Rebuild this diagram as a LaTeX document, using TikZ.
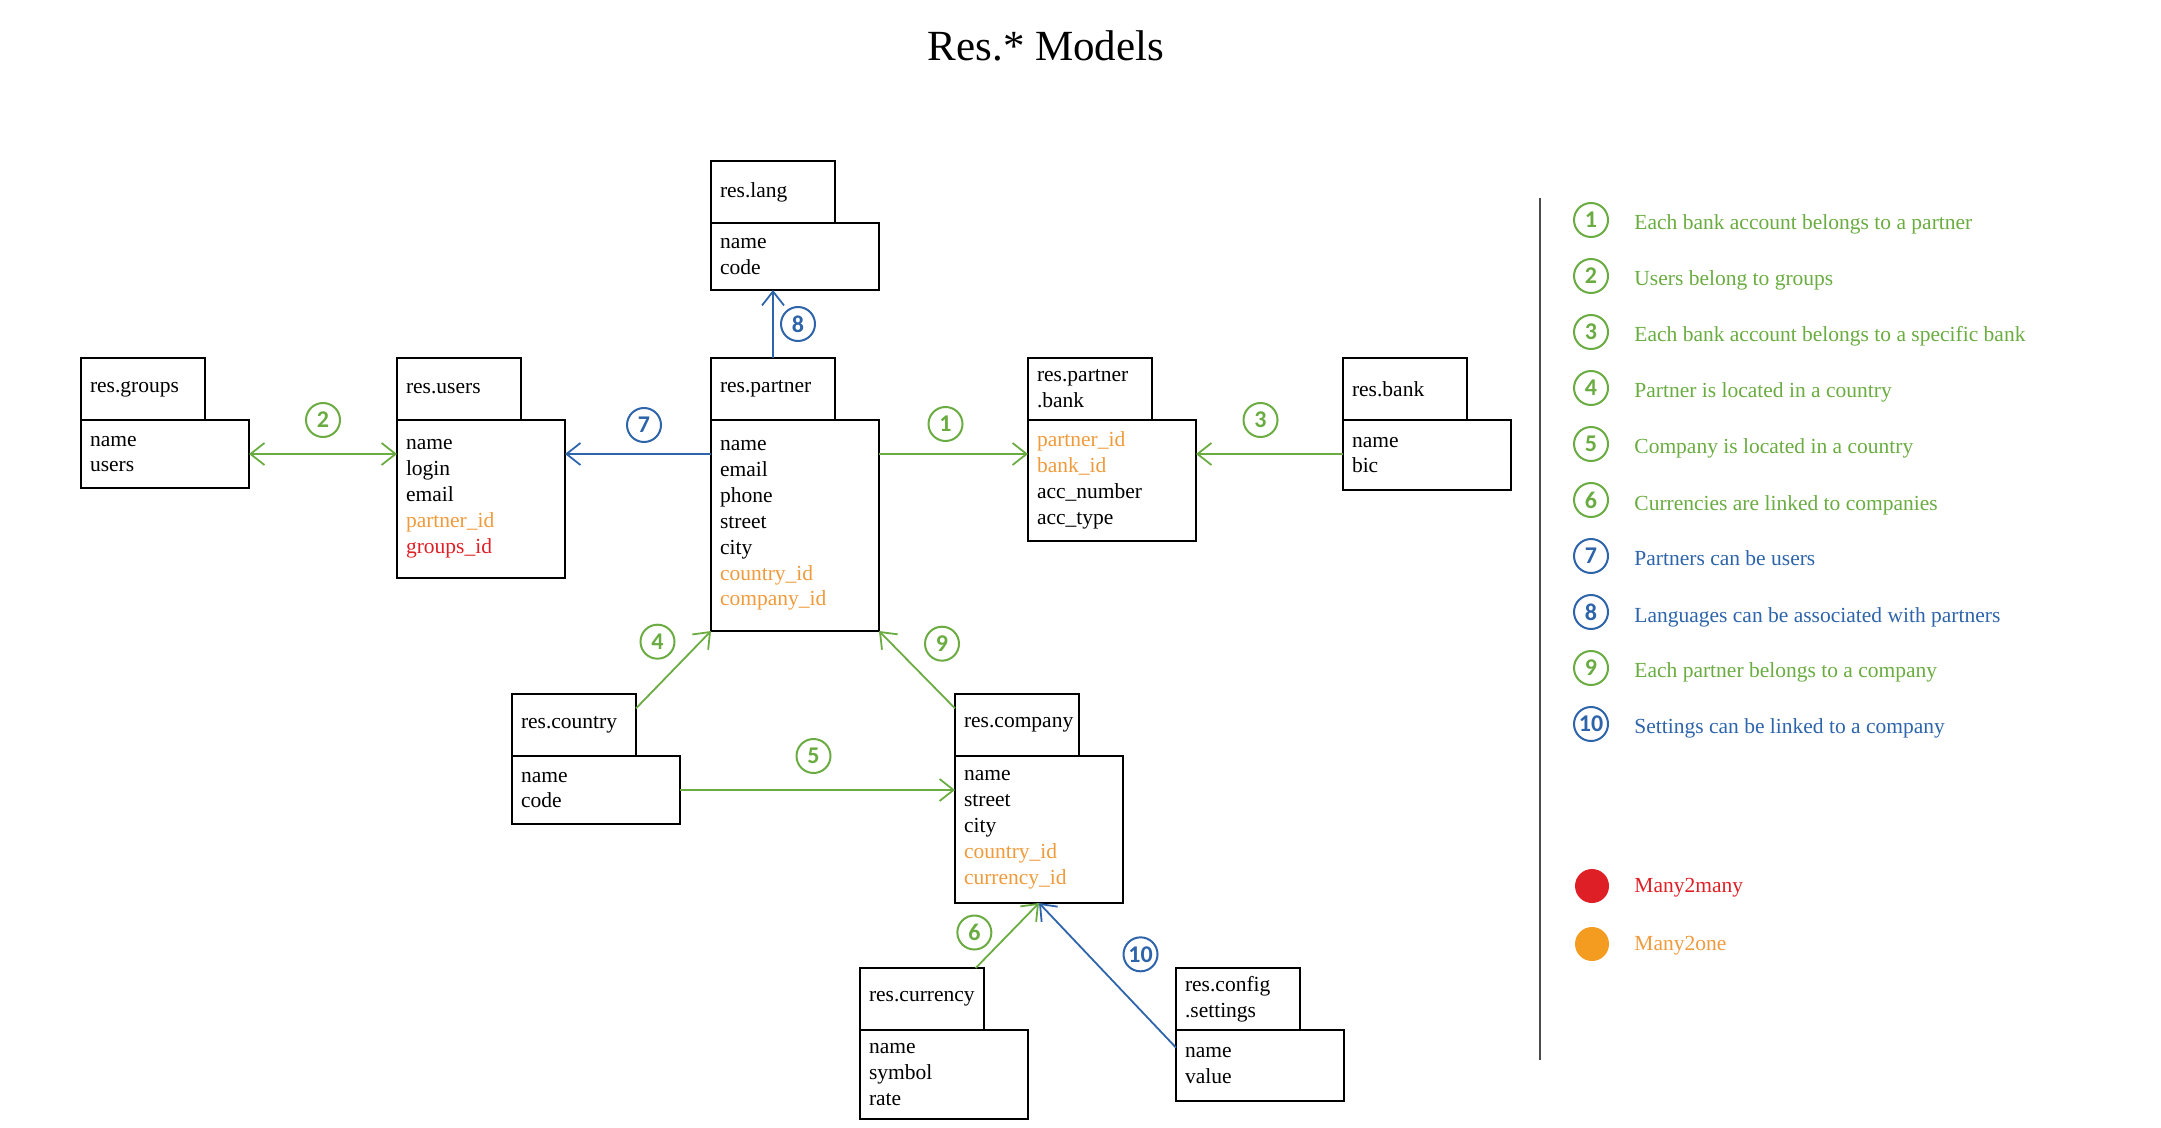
\documentclass[tikz,border=0pt]{standalone}
\usepackage{fontspec}
\setmainfont{Liberation Serif}
\newfontfamily\numfont{Carlito}
\usetikzlibrary{positioning,arrows.meta}
\hyphenpenalty=10000
\exhyphenpenalty=10000

\definecolor{relgreen}{RGB}{106,172,66}
\definecolor{relblue}{RGB}{46,100,170}
\definecolor{m2oorange}{RGB}{239,155,60}
\definecolor{m2mred}{RGB}{222,32,38}
\definecolor{dotorange}{RGB}{244,156,32}

\newcommand{\mone}[1]{\textcolor{m2oorange}{#1}}
\newcommand{\mmany}[1]{\textcolor{m2mred}{#1}}
\newcommand{\fieldsize}{\fontsize{10.75pt}{12.95pt}\selectfont}

\begin{document}
\begin{tikzpicture}
[ x=0.5pt, y=-0.5pt
, every node/.style={font=\fieldsize}
, model/.style={draw, line width=1.2pt, outer sep=0pt, anchor=north west, align=left, inner xsep=4.5pt, inner ysep=2pt, minimum width=62pt, minimum height=31pt, text width=53pt}
, fields/.style={model, minimum width=84pt, text width=75pt}
, num/.style={circle, draw, line width=1pt, minimum size=17pt, inner sep=0pt, font=\numfont\bfseries\fontsize{12pt}{12pt}\selectfont}
, rel/.style={line width=0.9pt, -{Straight Barb[length=7pt,width=11pt]}}
, relboth/.style={line width=0.9pt, {Straight Barb[length=7pt,width=11pt]}-{Straight Barb[length=7pt,width=11pt]}}
, legend/.style={anchor=base west, inner sep=0pt}
, dot/.style={circle, minimum size=17pt, inner sep=0pt}
, node distance=28pt
]

\useasboundingbox (0,0) rectangle (2161,1128);

\node[anchor=base, font=\fontsize{21.5pt}{26pt}\selectfont] (title) at (1046,61) {Res.* Models};

% models
\node[model] (lang) at (711,161) {res.lang};
\node[fields, minimum height=33.5pt] (langf) at (lang.south west) {name\\code};

\node[model] (groups) at (81,358) {res.groups};
\node[fields, minimum height=34pt] (groupsf) at (groups.south west) {name\\users};

\node[model] (users) at (397,358) {res.users};
\node[fields, minimum height=79pt] (usersf) at (users.south west) {name\\login\\email\\\mone{partner\_id}\\\mmany{groups\_id}};

\node[model] (partner) at (711,358) {res.partner};
\node[fields, minimum height=105.5pt] (partnerf) at (partner.south west) {name\\email\\phone\\street\\city\\\mone{country\_id}\\\mone{company\_id}};

\node[model] (pbank) at (1028,358) {res.partner\\.bank};
\node[fields, minimum height=60.5pt] (pbankf) at (pbank.south west) {\mone{partner\_id}\\\mone{bank\_id}\\acc\_number\\acc\_type};

\node[model] (bank) at (1343,358) {res.bank};
\node[fields, minimum height=35pt] (bankf) at (bank.south west) {name\\bic};

\node[model] (country) at (512,694) {res.country};
\node[fields, minimum height=34pt] (countryf) at (country.south west) {name\\code};

\node[model] (company) at (955,694) {res.company};
\node[fields, minimum height=73.5pt] (companyf) at (company.south west) {name\\street\\city\\\mone{country\_id}\\\mone{currency\_id}};

\node[model] (currency) at (860,968) {res.currency};
\node[fields, minimum height=44.5pt] (currencyf) at (currency.south west) {name\\symbol\\rate};

\node[model] (config) at (1176,968) {res.config\\.settings};
\node[fields, minimum height=35.5pt] (configf) at (config.south west) {name\\value};

% relations
\coordinate (row) at (0,454);
\draw[rel, relblue] (partner.north) -- node[num, xshift=12.5pt] {8} (partner.north |- langf.south);
\draw[rel, relblue] (partnerf.west |- row) -- node[num, xshift=3pt, yshift=14.5pt] {7} (usersf.east |- row);
\draw[rel, relgreen] (partnerf.east |- row) -- node[num, xshift=-4pt, yshift=15pt] {1} (pbankf.west |- row);
\draw[relboth, relgreen] (groupsf.east |- row) -- node[num, yshift=17pt] {2} (usersf.west |- row);
\draw[rel, relgreen] (bankf.west |- row) -- node[num, xshift=-4.5pt, yshift=17pt] {3} (pbankf.east |- row);
\draw[rel, relgreen] (country.15) -- node[num, xshift=-8pt, yshift=14pt] {4} (partnerf.south west);
\draw[rel, relgreen] (countryf.east) -- node[num, xshift=-2pt, yshift=17pt] {5} (companyf.west |- countryf.east);
\draw[rel, relgreen] (company.165) -- node[num, xshift=12.5pt, yshift=13pt] {9} (partnerf.south east);
\draw[rel, relgreen] (currency.30) -- node[num, xshift=-16.5pt, yshift=1.5pt] {6} (companyf.south);
\draw[rel, relblue] (configf.168) -- node[num, xshift=16.5pt, yshift=10.5pt] {10} (companyf.south);

% legend
\coordinate (septop) at (1540,198);
\coordinate (sepbot) at (1540,1060);
\draw[line width=1pt, black!70] (septop) -- (sepbot);

\node[num, relgreen] (l1) at (1591,220) {1};
\node[num, relgreen, below of=l1] (l2) {2};
\node[num, relgreen, below of=l2] (l3) {3};
\node[num, relgreen, below of=l3] (l4) {4};
\node[num, relgreen, below of=l4] (l5) {5};
\node[num, relgreen, below of=l5] (l6) {6};
\node[num, relblue, below of=l6] (l7) {7};
\node[num, relblue, below of=l7] (l8) {8};
\node[num, relgreen, below of=l8] (l9) {9};
\node[num, relblue, below of=l9] (l10) {10};

\node[legend, relgreen] (t1) at ([xshift=21.5pt, yshift=-1pt]l1.base) {Each bank account belongs to a partner};
\node[legend, relgreen] (t2) at ([xshift=21.5pt, yshift=-1pt]l2.base) {Users belong to groups};
\node[legend, relgreen] (t3) at ([xshift=21.5pt, yshift=-1pt]l3.base) {Each bank account belongs to a specific bank};
\node[legend, relgreen] (t4) at ([xshift=21.5pt, yshift=-1pt]l4.base) {Partner is located in a country};
\node[legend, relgreen] (t5) at ([xshift=21.5pt, yshift=-1pt]l5.base) {Company is located in a country};
\node[legend, relgreen] (t6) at ([xshift=21.5pt, yshift=-1pt]l6.base) {Currencies are linked to companies};
\node[legend, relblue] (t7) at ([xshift=21.5pt, yshift=-1pt]l7.base) {Partners can be users};
\node[legend, relblue] (t8) at ([xshift=21.5pt, yshift=-1pt]l8.base) {Languages can be associated with partners};
\node[legend, relgreen] (t9) at ([xshift=21.5pt, yshift=-1pt]l9.base) {Each partner belongs to a company};
\node[legend, relblue] (t10) at ([xshift=21.5pt, yshift=-1pt]l10.base) {Settings can be linked to a company};

\node[dot, fill=m2mred] (m2m) at (1592,886) {};
\node[dot, fill=dotorange, below of=m2m, node distance=29pt] (m2o) {};
\node[legend, m2mred] (m2mtext) at ([xshift=21pt, yshift=-3pt]m2m.center) {Many2many};
\node[legend, m2oorange] (m2otext) at ([xshift=21pt, yshift=-3pt]m2o.center) {Many2one};

\end{tikzpicture}
\end{document}
